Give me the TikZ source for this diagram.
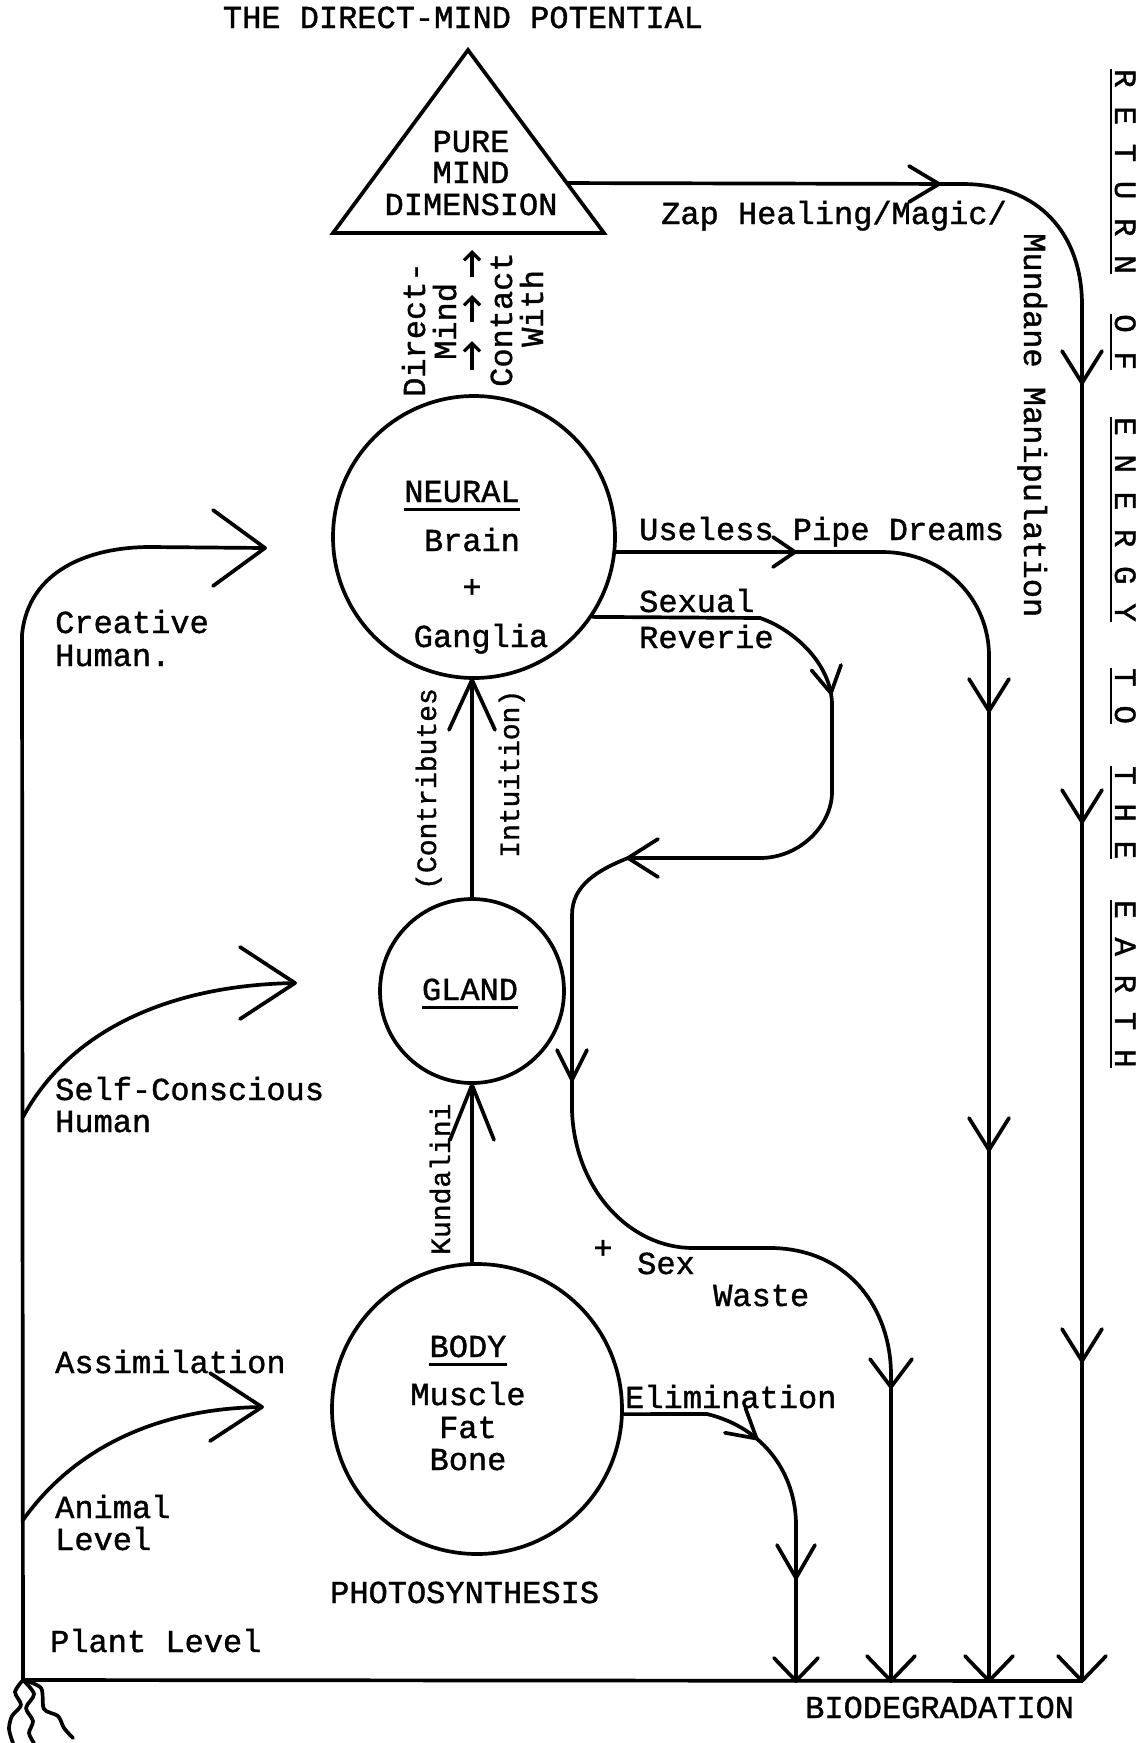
\documentclass[tikz,border=0pt]{standalone}
\usepackage{fontspec}
\newfontfamily\tw{Liberation Mono}[FakeBold=1.2]
\usetikzlibrary{calc,arrows.meta}
\begin{document}
\begin{tikzpicture}[x=1pt,y=-1pt,
 ln/.style={line width=3.7pt,line cap=round,line join=round},
 uln/.style={line width=2.6pt},
 lbl/.style={font=\tw\fontsize{32}{36}\selectfont,inner sep=0pt,text height=18pt,text depth=5pt},
 ulbl/.style={lbl,text depth=7pt},
 rlbl/.style={font=\tw\fontsize{31}{36}\selectfont,inner sep=0pt,text height=18pt,text depth=4pt,rotate=-90,anchor=base west},
 up/.style={lbl,rotate=90,anchor=base west},
 upsmall/.style={up,font=\tw\fontsize{28}{32}\selectfont},
 circ/.style={circle,draw,line width=3.7pt,inner sep=0pt},
 pics/vhead/.style 2 args={code={\draw[ln] (-#1,#2) -- (0,0) -- (-#1,-#2);}},
 smallup/.style={line width=3.2pt,-{Straight Barb[length=8pt,width=16pt]}},
]
\useasboundingbox (0,0) rectangle (1147,1743);

% title
\node[lbl,anchor=base] (title) at (463,28) {THE DIRECT-MIND POTENTIAL};

% triangle
\coordinate (tt) at (468,50);
\coordinate (tl) at (333,233);
\coordinate (tr) at (604,233);
\draw[ln,line join=miter] (tt) -- (tl) -- (tr) -- cycle;
\node[lbl,anchor=base] (pm1) at (471,152) {PURE};
\node[lbl,anchor=base] (pm2) at (471,183) {MIND};
\node[lbl,anchor=base] (pm3) at (471,215) {DIMENSION};

% circles
\node[circ,minimum size=282pt] (neural) at (474,537) {};
\node[circ,minimum size=184pt] (gland) at (472,991) {};
\node[circ,minimum size=290pt] (body) at (477,1409) {};

\node[ulbl,anchor=base] (nt) at (462,502) {NEURAL};
\draw[uln] (nt.south west) -- (nt.south east);
\node[lbl,anchor=base] (nb) at (472,551) {Brain};
\node[lbl] (np) at (472,591) {+};
\node[lbl,anchor=base] (ng) at (481,647) {Ganglia};

\node[ulbl,anchor=base] (gt) at (470,1000) {GLAND};
\draw[uln] (gt.south west) -- (gt.south east);

\node[ulbl,anchor=base] (bt) at (468,1357) {BODY};
\draw[uln] (bt.south west) -- (bt.south east);
\node[lbl,anchor=base] (bm) at (468,1405) {Muscle};
\node[lbl,anchor=base] (bf) at (468,1438) {Fat};
\node[lbl,anchor=base] (bb) at (468,1470) {Bone};
\node[lbl,anchor=base west] (photo) at (330,1603) {PHOTOSYNTHESIS};

% direct mind contact
\node[up] (dm1) at (425,397) {Direct-};
\node[up] (dm2) at (456,360) {Mind};
\node[up] (ct1) at (512,387) {Contact};
\node[up] (ct2) at (543,347) {With};
\coordinate (a1t) at (472,250); \coordinate (a1b) at (472,277);
\coordinate (a2t) at (472,295); \coordinate (a2b) at (472,322);
\coordinate (a3t) at (472,341); \coordinate (a3b) at (472,370);
\draw[smallup] (a1b) -- (a1t);
\draw[smallup] (a2b) -- (a2t);
\draw[smallup] (a3b) -- (a3t);

% gland -> neural
\draw[ln] (gland.north) -- (gland.north |- neural.south);
\pic[rotate=90] at (gland.north |- neural.south) {vhead={50}{23}};
\node[upsmall] (contr) at (436,890) {(Contributes};
\node[upsmall] (intu) at (519,858) {Intuition)};

% body -> gland
\draw[ln] (gland.south |- body.north) -- (gland.south);
\pic[rotate=90] at (gland.south) {vhead={55}{22}};
\node[upsmall] (kund) at (450,1255) {Kundalini};

% zap line
\coordinate (z0) at ($(tt)!0.727!(tr)$);
\coordinate (zb) at (1082,1681);
\draw[ln] (z0) -- (962,184) .. controls (1040,184) and (1082,235) .. (1082,305) -- (zb);
\pic at (939,184) {vhead={30}{18}};
\pic[rotate=-90] at (1082,383) {vhead={32}{20}};
\pic[rotate=-90] at (1082,822) {vhead={32}{20}};
\pic[rotate=-90] at (1082,1361) {vhead={32}{20}};
\pic[rotate=-90] at (zb) {vhead={25}{24}};
\node[lbl,anchor=base west] (zap) at (661,224) {Zap Healing/Magic/};
\node[lbl,rotate=-90,anchor=base west] (mund) at (1024,233) {Mundane Manipulation};

% useless pipe dreams
\coordinate (ub) at (989,1681);
\draw[ln] (neural.-6) -- (882,552) .. controls (945,552) and (989,600) .. (989,656) -- (ub);
\pic at (795,552) {vhead={22}{15}};
\pic[rotate=-90] at (989,711) {vhead={32}{20}};
\pic[rotate=-90] at (989,1150) {vhead={32}{20}};
\pic[rotate=-90] at (ub) {vhead={25}{24}};
\node[lbl,anchor=base west] (useless) at (639,540) {Useless Pipe Dreams};

% sexual reverie -> sex waste
\coordinate (sb) at (891,1681);
\draw[ln] (neural.-34.8) -- (760,618) .. controls (795,630) and (832,665) .. (832,705)
  pic[pos=0.9,sloped,allow upside down] {vhead={26}{15}}
  -- (832,792) .. controls (832,825) and (800,858) .. (760,858)
  -- (628,858) .. controls (598,870) and (572,885) .. (572,915)
  -- (572,1111) .. controls (575,1190) and (630,1248) .. (693,1248)
  -- (773,1248) .. controls (850,1250) and (891,1310) .. (891,1375) -- (sb);
\pic[rotate=180] at (628,858) {vhead={30}{19}};
\pic[rotate=-90] at (572,1080) {vhead={30}{15}};
\pic[rotate=-90] at (891,1387) {vhead={28}{21}};
\pic[rotate=-90] at (sb) {vhead={25}{24}};
\node[lbl,anchor=base west] (sexual) at (639,612) {Sexual};
\node[lbl,anchor=base west] (reverie) at (639,648) {Reverie};
\node[lbl] (plus) at (603,1252) {+};
\node[lbl,anchor=base west] (sex) at (637,1274) {Sex};
\node[lbl,anchor=base west] (waste) at (713,1306) {Waste};

% elimination
\coordinate (eb) at (796,1681);
\draw[ln] (body.-2) -- (707,1414) .. controls (765,1428) and (796,1475) .. (796,1525)
  pic[pos=0.34,sloped,allow upside down] {vhead={28}{16}} -- (eb);
\pic[rotate=-90] at (796,1578) {vhead={33}{19}};
\pic[rotate=-90] at (eb) {vhead={23}{22}};
\node[lbl,anchor=base west] (elim) at (625,1408) {Elimination};

% bottom and left lines
\coordinate (corner) at (23,1680);
\coordinate (ltop) at (22,635);
\draw[ln] (ltop) -- (corner) -- (zb);
\node[lbl,anchor=base west] (bio) at (805,1718) {BIODEGRADATION};
\node[lbl,anchor=base west] (plant) at (50,1652) {Plant Level};

% left arrows
\coordinate (crt) at (265,548);
\draw[ln] (ltop) .. controls (28,570) and (90,547) .. (150,547) -- (crt);
\pic at (crt) {vhead={52}{38}};
\node[lbl,anchor=base west] (cr1) at (55,633) {Creative};
\node[lbl,anchor=base west] (cr2) at (55,666) {Human.};

\coordinate (sc0) at (23,1117);
\coordinate (sct) at (295,983);
\draw[ln] (sc0) .. controls (70,1030) and (170,985) .. (sct);
\pic at (sct) {vhead={55}{36}};
\node[lbl,anchor=base west] (sc1) at (55,1100) {Self-Conscious};
\node[lbl,anchor=base west] (sc2) at (55,1132) {Human};

\coordinate (as0) at (23,1520);
\coordinate (ast) at (262,1407);
\draw[ln] (as0) .. controls (80,1440) and (170,1408) .. (ast);
\pic at (ast) {vhead={52}{34}};
\node[lbl,anchor=base west] (as) at (55,1373) {Assimilation};
\node[lbl,anchor=base west] (an1) at (55,1518) {Animal};
\node[lbl,anchor=base west] (an2) at (55,1550) {Level};

% roots
\draw[ln] plot[smooth] coordinates {(corner) (15,1692) (21,1705) (12,1716) (9,1729) (13,1743)};
\draw[ln] plot[smooth] coordinates {(corner) (34,1694) (26,1708) (33,1721) (29,1733) (34,1743)};
\draw[ln] plot[smooth] coordinates {(corner) (41,1688) (44,1709) (58,1716) (64,1728) (73,1738)};

% return of energy
\node[rlbl] (r1) at (1115,69) {R E T U R N};
\node[rlbl] (r2) at (1115,314) {O F};
\node[rlbl] (r3) at (1115,417) {E N E R G Y};
\node[rlbl] (r4) at (1115,668) {T O};
\node[rlbl] (r5) at (1115,766) {T H E};
\node[rlbl] (r6) at (1115,900) {E A R T H};
\foreach \w in {r1,r2,r3,r4,r5,r6} \draw[uln] (\w.south west) -- (\w.south east);
\end{tikzpicture}
\end{document}
